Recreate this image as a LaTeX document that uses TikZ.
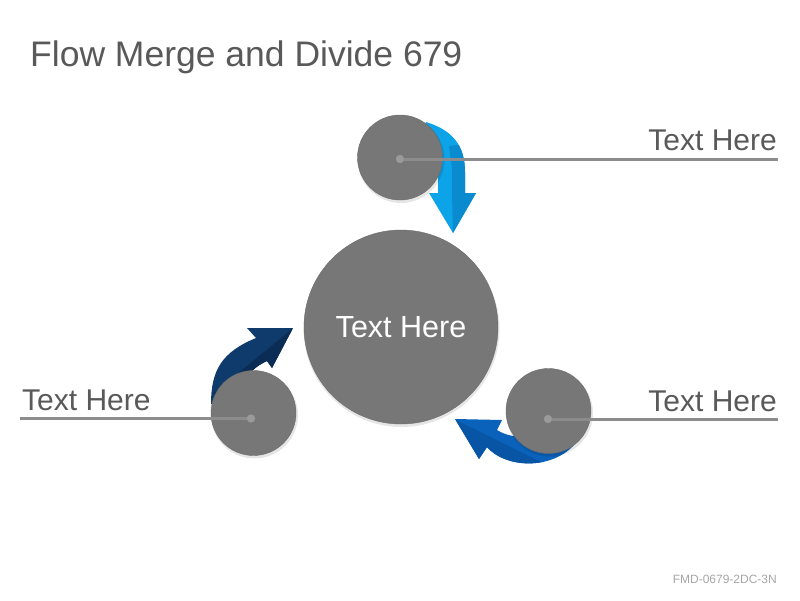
\documentclass[tikz,border=0pt]{standalone}
\usepackage{fontspec}
\setmainfont{Liberation Sans}
\definecolor{txtgray}{HTML}{595959}
\definecolor{circgray}{HTML}{777777}
\definecolor{linegray}{HTML}{8C8C8C}
\definecolor{dotgray}{HTML}{9A9A9A}
\definecolor{footgray}{HTML}{A6A6A6}
\definecolor{skyA}{HTML}{0CA3E8}
\definecolor{skyB}{HTML}{0A8BCF}
\definecolor{navyA}{HTML}{0F3B6C}
\definecolor{navyB}{HTML}{0B2D55}
\definecolor{blueA}{HTML}{0A62BA}
\definecolor{blueB}{HTML}{0855A5}
\begin{document}
\begin{tikzpicture}[x=1pt,y=-1pt,
  disc/.style={circle,fill=circgray,inner sep=0pt,draw=black!58,line width=0.4pt},
  shade/.style={fill=black,opacity=0.10},
  leader/.style={draw=linegray,line width=3pt},
  pin/.style={circle,fill=dotgray,inner sep=0pt,minimum size=8pt},
  label/.style={font=\fontsize{30}{35}\selectfont,text=txtgray,inner sep=0pt}]
\useasboundingbox (0,0) rectangle (800,600);
\fill[white] (0,0) rectangle (800,600);

% title and footer
\node[anchor=base west,inner sep=0pt,text=txtgray,font=\fontsize{35.5}{40}\selectfont] (title) at (30,66) {Flow Merge and Divide 679};
\node[anchor=base east,inner sep=0pt,text=footgray,font=\fontsize{12}{14}\selectfont] (foot) at (777,583) {FMD-0679-2DC-3N};

% ---- top arrow (light blue) ----
\def\toparrow{(426,122) .. controls (452,130) and (465,145) .. (465,172) -- (465,193) -- (476,193) -- (453,233) -- (429,193) -- (438,193) -- (438,176) -- (415,150) -- cycle}
\fill[skyA] \toparrow;
\begin{scope}
\clip \toparrow;
\fill[skyB] (449,146) -- (452,168) -- (452,193) -- (453,236) -- (495,240) -- (495,140) -- cycle;
\end{scope}

% ---- left arrow (navy) ----
\def\leftarrow{(211,404) .. controls (211,370) and (222,352) .. (256,338) -- (247,328) -- (293,328) -- (272,368) -- (267,361) .. controls (252,368) and (242,378) .. (238,400) -- cycle}
\fill[navyA] \leftarrow;
\begin{scope}
\clip \leftarrow;
\fill[navyB] (298,324) -- (213,394) -- (300,430) -- cycle;
\end{scope}

% ---- right arrow (blue) ----
\def\rightarrow{(573,446) .. controls (550,470) and (505,468) .. (487,447) -- (479,459) -- (455,419) -- (502,420) -- (497,430) .. controls (508,437) and (525,440) .. (540,430) -- cycle}
\fill[blueA] \rightarrow;
\begin{scope}
\clip \rightarrow;
\fill[blueB] (450,417) -- (545,464) -- (545,480) -- (450,480) -- cycle;
\end{scope}

% ---- circle shadows ----
\fill[shade] (401.5,329) circle (98);
\fill[shade] (401,159.5) circle (43.5);
\fill[shade] (254.5,415) circle (43.5);
\fill[shade] (549.5,413) circle (43.5);

% ---- circles ----
\node[disc,minimum size=194pt] (hub) at (401,327) {};
\node[disc,minimum size=85pt] (top) at (400,157.5) {};
\node[disc,minimum size=85pt] (lft) at (253.5,413) {};
\node[disc,minimum size=85pt] (rgt) at (548.5,411) {};
\node[font=\fontsize{30.5}{35}\selectfont,text=white,inner sep=0pt] (hubtext) at (401,327) {Text Here};

% ---- leaders ----
\node[pin] (ptop) at (400,159) {};
\node[pin] (plft) at (251,418.5) {};
\node[pin] (prgt) at (548,419) {};
\coordinate (etop) at (778,159);
\coordinate (elft) at (20,418.5);
\coordinate (ergt) at (778,419);
\draw[leader] (ptop.center) -- (etop);
\draw[leader] (plft.center) -- (elft);
\draw[leader] (prgt.center) -- (ergt);
\node[pin] at (ptop) {};
\node[pin] at (plft) {};
\node[pin] at (prgt) {};

% ---- labels ----
\node[label,anchor=base east] (ltop) at (777,150) {Text Here};
\node[label,anchor=base west] (llft) at (22,410) {Text Here};
\node[label,anchor=base east] (lrgt) at (777,411) {Text Here};
\end{tikzpicture}
\end{document}
